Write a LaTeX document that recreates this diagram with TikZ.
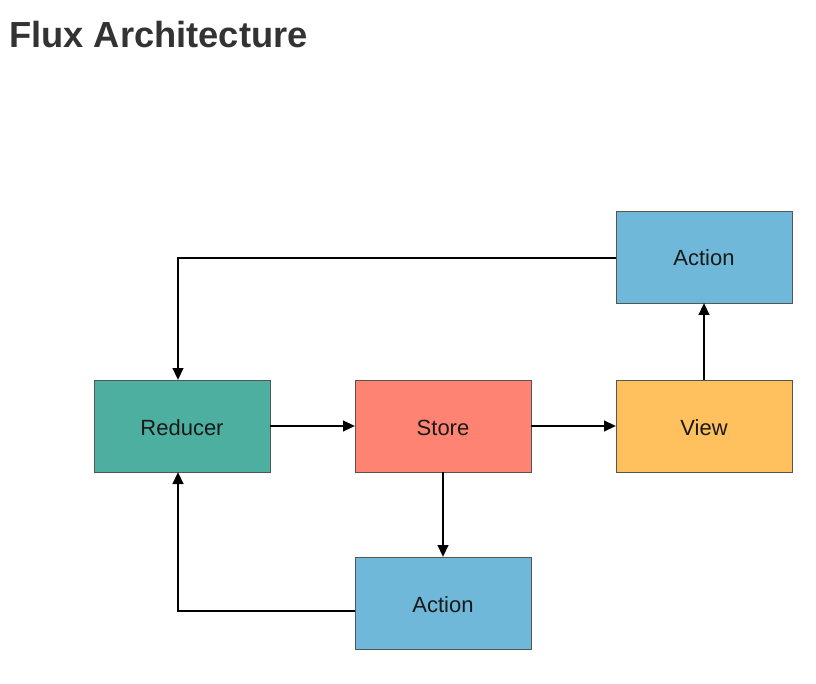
\documentclass[tikz,border=0pt]{standalone}
\usepackage{fontspec}
\setmainfont{Liberation Sans}
\usetikzlibrary{arrows.meta}
\definecolor{titlec}{HTML}{333333}
\definecolor{teal}{HTML}{4DAF9F}
\definecolor{salmon}{HTML}{FF8372}
\definecolor{orangey}{HTML}{FFC15E}
\definecolor{bluey}{HTML}{6FB8DA}
\definecolor{edge}{HTML}{555555}
\tikzset{
  box/.style={draw=edge, line width=0.8pt, minimum width=176pt, minimum height=92pt,
    inner sep=0pt, outer sep=0pt, font=\fontsize{22}{26}\selectfont, text=black!90,
    text height=18pt, text depth=0pt},
  conn/.style={line width=2.5pt, -{Triangle[length=12pt,width=10.5pt]}}
}
\begin{document}
\begin{tikzpicture}[x=1pt,y=-1pt]
\useasboundingbox (0,0) rectangle (816,684);
\node[anchor=base west, text=titlec, font=\bfseries\fontsize{36.3}{40}\selectfont, inner sep=0pt] (title) at (9,48) {Flux Architecture};
\node[box, fill=bluey, anchor=north west] (actT) at (616,211) {Action};
\node[box, fill=orangey, anchor=north west] (view) at (616,380) {View};
\node[box, fill=teal, anchor=north west] (red) at (94,380) {Reducer};
\node[box, fill=salmon, anchor=north west] (store) at (355,380) {Store};
\node[box, fill=bluey, anchor=north west] (actB) at (355,557) {Action};
\draw[conn] (red.east) -- (store.west);
\draw[conn] (store.east) -- (view.west);
\draw[conn] (view.north) -- (actT.south);
\draw[conn] (store.south) -- (actB.north);
\draw[conn] ([yshift=-1pt]actT.west) -| ([xshift=-4pt]red.north);
\draw[conn] ([yshift=-8pt]actB.west) -| ([xshift=-4pt]red.south);
\end{tikzpicture}
\end{document}
